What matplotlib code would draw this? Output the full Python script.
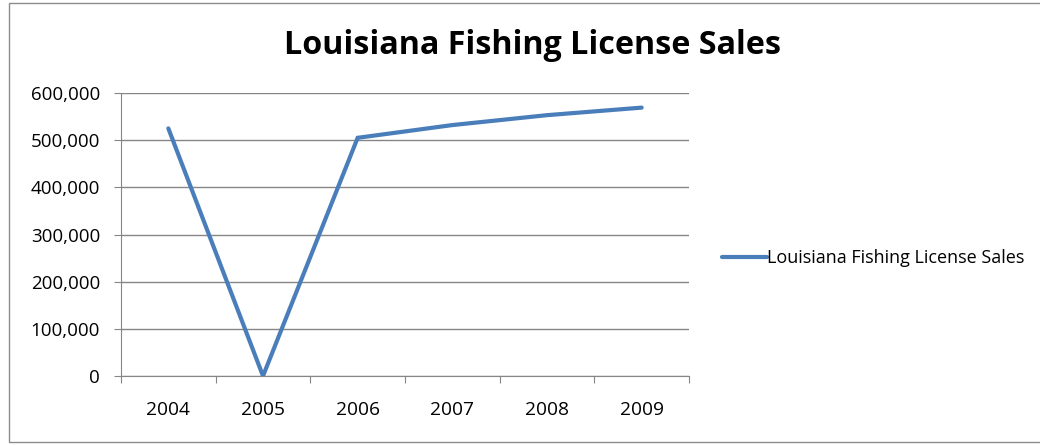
import matplotlib
matplotlib.use("Agg")
import matplotlib.pyplot as plt
from matplotlib.patches import Rectangle
from matplotlib.ticker import FuncFormatter, FixedLocator

years = ["2004", "2005", "2006", "2007", "2008", "2009"]
sales = [525000, 0, 505000, 532000, 553000, 569000]
series_name = "Louisiana Fishing License Sales"
title = "Louisiana Fishing License Sales"
yticks = [0, 100000, 200000, 300000, 400000, 500000, 600000]

font = ["Open Sans", "DejaVu Sans"]
plt.rcParams['font.family'] = font

fig = plt.figure(figsize=(10.4, 4.45), dpi=100)
fig.patches.append(Rectangle((9/1040, 3/445), 1.2, 439/445, transform=fig.transFigure,
                             fill=False, edgecolor="#8c8c8c", linewidth=1.0))
ax = fig.add_axes([121/1040, 1-376/445, (689-121)/1040, (376-93)/445])

x = list(range(len(years)))
ax.plot(x, sales, color="#4A7EBB", linewidth=3.0, solid_capstyle="round",
        solid_joinstyle="miter", label=series_name, zorder=3)

ax.set_xlim(-0.5, len(years) - 0.5)
ax.set_ylim(0, 600000)
ax.set_yticks(yticks)
ax.yaxis.set_major_formatter(FuncFormatter(lambda v, p: f"{int(v):,}"))
ax.xaxis.set_major_locator(FixedLocator([i - 0.5 for i in range(len(years) + 1)]))
ax.xaxis.set_minor_locator(FixedLocator(x))
ax.set_xticklabels([], minor=False)
ax.set_xticklabels(years, minor=True)
ax.tick_params(axis="x", which="major", length=5, color="#868686", direction="out")
ax.tick_params(axis="x", which="minor", length=0, pad=18, labelsize=13.8)
ax.tick_params(axis="y", length=5, color="#868686", direction="out", labelsize=13.5, pad=10)
ax.grid(axis="y", color="#868686", linewidth=1.0)
for s in ["top", "right"]:
    ax.spines[s].set_visible(False)
for s in ["left", "bottom"]:
    ax.spines[s].set_color("#868686")
ax.set_axisbelow(True)

fig.text(533/1040, 1-45/445, title, ha="center", va="center", fontsize=23.2, fontweight="bold")

leg = fig.legend(loc="center left", bbox_to_anchor=(715/1040, 1-258/445), frameon=False,
                 fontsize=13, handlelength=2.5, handletextpad=0.0, borderaxespad=0)

fig.savefig("out.png", dpi=100)
